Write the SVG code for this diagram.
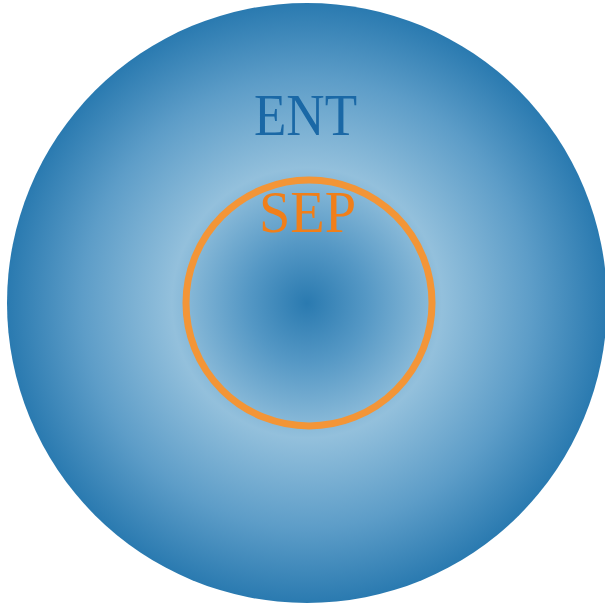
<svg xmlns="http://www.w3.org/2000/svg" width="605" height="607" viewBox="0 0 605 607">
<defs>
<radialGradient id="g" cx="307" cy="303" r="300" gradientUnits="userSpaceOnUse">
<stop offset="0" stop-color="#2a7ab0"/>
<stop offset="0.2" stop-color="#5598c5"/>
<stop offset="0.45" stop-color="#93c0dc"/>
<stop offset="0.75" stop-color="#5d9dc8"/>
<stop offset="1" stop-color="#2a7ab0"/>
</radialGradient>
<style>
.lbl{font-family:"Liberation Serif","DejaVu Serif",serif;font-size:60px;text-anchor:middle}
</style>
</defs>
<g id="ENT">
<circle cx="307" cy="303" r="300" fill="url(#g)"/>
<text class="lbl" x="305.5" y="135" fill="#1a68a6" textLength="103" lengthAdjust="spacingAndGlyphs">ENT</text>
</g>
<g id="SEP">
<circle cx="309" cy="303" r="123" fill="none" stroke="#f39537" stroke-width="7"/>
<text class="lbl" x="307.5" y="232" fill="#f07f1a" textLength="97" lengthAdjust="spacingAndGlyphs">SEP</text>
</g>
<g id="connectors"/>
</svg>
